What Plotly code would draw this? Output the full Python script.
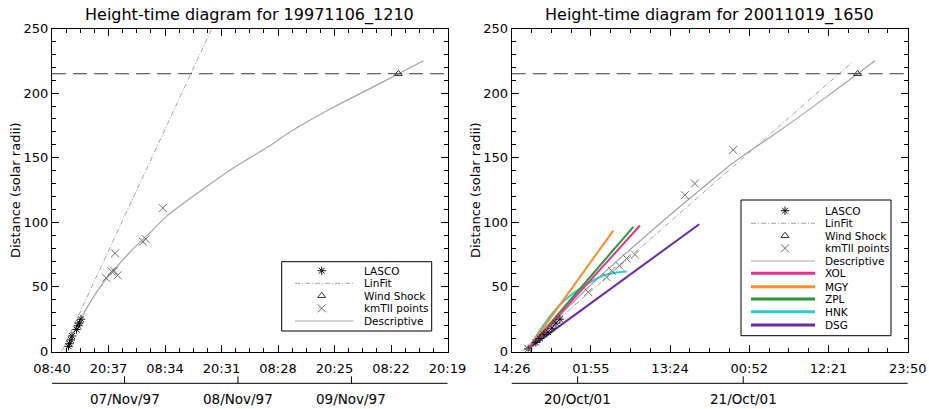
import plotly.graph_objects as go

W, H = 929, 409
FONT = "DejaVu Sans"

# ---------------- data: event 1 (1997-11-06 12:10) ----------------
e1_title = "Height-time diagram for 19971106_1210"
e1_range = ["1997-11-06 08:40", "1997-11-09 20:19"]
e1_tick_step_min = 717
e1_lasco_t = ["1997-11-06 12:09", "1997-11-06 12:23", "1997-11-06 12:41", "1997-11-06 12:54",
              "1997-11-06 13:51", "1997-11-06 14:11", "1997-11-06 14:29", "1997-11-06 14:48"]
e1_lasco_r = [4, 6, 9, 12, 17, 20, 22, 25]
e1_kmtii_t = ["1997-11-06 20:06", "1997-11-06 21:16", "1997-11-06 21:48", "1997-11-06 22:32",
              "1997-11-06 22:00", "1997-11-07 03:53", "1997-11-07 04:30", "1997-11-07 08:06"]
e1_kmtii_r = [57, 62, 62.5, 59, 76, 85, 87, 111]
e1_shock_t = ["1997-11-09 09:56"]
e1_shock_r = [215]
e1_linfit_t = ["1997-11-06 10:43", "1997-11-08 00:50"]
e1_linfit_r = [0, 300]
e1_desc_t = ["1997-11-06 12:03", "1997-11-06 13:32", "1997-11-06 15:01", "1997-11-06 16:43",
             "1997-11-06 19:53", "1997-11-06 21:23", "1997-11-07 01:11", "1997-11-07 03:56",
             "1997-11-07 05:25", "1997-11-07 09:01", "1997-11-07 16:00", "1997-11-07 23:00",
             "1997-11-08 06:12", "1997-11-08 11:04", "1997-11-08 20:11", "1997-11-09 03:23",
             "1997-11-09 09:56", "1997-11-09 15:14"]
e1_desc_r = [3, 17, 27, 38, 55, 61.5, 77, 87, 92, 105, 124, 142, 158, 170, 189, 202.5, 215, 225]
e1_day_t = ["1997-11-07", "1997-11-08", "1997-11-09"]
e1_day_labels = ["07/Nov/97", "08/Nov/97", "09/Nov/97"]

# ---------------- data: event 2 (2001-10-19 16:50) ----------------
e2_title = "Height-time diagram for 20011019_1650"
e2_range = ["2001-10-19 14:26:30", "2001-10-21 23:50:30"]
e2_tick_step_min = 688.8
e2_lasco_t = ["2001-10-19 16:50", "2001-10-19 17:57", "2001-10-19 18:32", "2001-10-19 19:07",
              "2001-10-19 19:42", "2001-10-19 20:16", "2001-10-19 20:51", "2001-10-19 21:26"]
e2_lasco_r = [2, 7, 10, 13, 15, 18, 22, 25]
e2_kmtii_t = ["2001-10-19 16:50", "2001-10-20 01:32", "2001-10-20 04:12", "2001-10-20 04:56",
              "2001-10-20 06:02", "2001-10-20 07:06", "2001-10-20 08:18", "2001-10-20 15:33",
              "2001-10-20 17:00", "2001-10-20 22:33"]
e2_kmtii_r = [2, 46, 57.5, 62.5, 66.5, 72, 75, 121, 130, 156]
e2_shock_t = ["2001-10-21 16:35"]
e2_shock_r = [215]
e2_linfit_t = ["2001-10-19 15:56", "2001-10-21 15:43"]
e2_linfit_r = [0, 223.5]
e2_desc_t = ["2001-10-19 16:48", "2001-10-19 21:26", "2001-10-20 03:14", "2001-10-20 12:22",
             "2001-10-20 17:43", "2001-10-20 22:48", "2001-10-21 05:19", "2001-10-21 12:34",
             "2001-10-21 19:06"]
e2_desc_r = [2, 28, 58, 101, 125, 147, 171, 199, 225]
xol_t = ["2001-10-19 16:50", "2001-10-20 09:02"]
xol_r = [2, 97.5]
mgy_t = ["2001-10-19 16:50", "2001-10-20 05:10"]
mgy_r = [2, 93.6]
zpl_t = ["2001-10-19 16:50", "2001-10-20 08:04"]
zpl_r = [2, 96.5]
hnk_t = ["2001-10-19 16:50", "2001-10-19 19:01", "2001-10-19 20:28", "2001-10-19 22:24",
         "2001-10-20 01:18", "2001-10-20 03:43", "2001-10-20 05:24", "2001-10-20 07:06"]
hnk_r = [2, 20, 30.5, 41, 52, 58.8, 61, 62]
dsg_t = ["2001-10-19 16:50", "2001-10-20 17:37"]
dsg_r = [2, 98.5]
e2_day_t = ["2001-10-20", "2001-10-21"]
e2_day_labels = ["20/Oct/01", "21/Oct/01"]

au_radii = 215
y_label = "Distance (solar radii)"
base_legend = ["LASCO", "LinFit", "Wind Shock", "kmTII points", "Descriptive"]
model_names = ["XOL", "MGY", "ZPL", "HNK", "DSG"]

# ---------------- styles ----------------
GRAY_LINE = "#a3a3a3"
STY = {
    "LASCO": dict(kind="marker", marker=dict(symbol="asterisk-open", size=7, color="#111",
                                             line=dict(width=1, color="#111"))),
    "LinFit": dict(kind="line", line=dict(color=GRAY_LINE, width=1, dash="5px,2px,1px,2px")),
    "Wind Shock": dict(kind="marker", marker=dict(symbol="triangle-up-open", size=7, color="#333",
                                                  line=dict(width=1, color="#333"))),
    "kmTII points": dict(kind="marker", marker=dict(symbol="x-thin-open", size=8, color="#6e6e6e",
                                                    line=dict(width=1, color="#6e6e6e"))),
    "Descriptive": dict(kind="line", line=dict(color=GRAY_LINE, width=1.2, shape="spline",
                                               smoothing=0.8)),
    "XOL": dict(kind="line", line=dict(color="#e8308c", width=2)),
    "MGY": dict(kind="line", line=dict(color="#ff8c26", width=2)),
    "ZPL": dict(kind="line", line=dict(color="#259a32", width=2)),
    "HNK": dict(kind="line", line=dict(color="#28cccc", width=2, shape="spline", smoothing=0.8)),
    "DSG": dict(kind="line", line=dict(color="#6a28a8", width=2)),
}

# pixel geometry
Y_TOP, Y_BOT = 28.5, 351.5
P1 = (52.0, 447.5)
P2 = (511.7, 907.7)
DATE_LINE_Y = 383.3

fig = go.Figure()


def line_trace(t, r, name, xa, ya):
    return go.Scatter(x=t, y=r, mode="lines", line=STY[name]["line"], xaxis=xa, yaxis=ya,
                      showlegend=False, hoverinfo="skip")


def marker_trace(t, r, name, xa, ya):
    return go.Scatter(x=t, y=r, mode="markers", marker=STY[name]["marker"], xaxis=xa, yaxis=ya,
                      showlegend=False, hoverinfo="skip")


# panel 1
fig.add_trace(line_trace(e1_desc_t, e1_desc_r, "Descriptive", "x", "y"))
fig.add_trace(line_trace(e1_linfit_t, e1_linfit_r, "LinFit", "x", "y"))
fig.add_trace(marker_trace(e1_lasco_t, e1_lasco_r, "LASCO", "x", "y"))
fig.add_trace(marker_trace(e1_kmtii_t, e1_kmtii_r, "kmTII points", "x", "y"))
fig.add_trace(marker_trace(e1_shock_t, e1_shock_r, "Wind Shock", "x", "y"))

# panel 2
fig.add_trace(line_trace(e2_desc_t, e2_desc_r, "Descriptive", "x2", "y2"))
fig.add_trace(line_trace(e2_linfit_t, e2_linfit_r, "LinFit", "x2", "y2"))
for nm, t, r in [("DSG", dsg_t, dsg_r), ("HNK", hnk_t, hnk_r), ("MGY", mgy_t, mgy_r),
                 ("ZPL", zpl_t, zpl_r), ("XOL", xol_t, xol_r)]:
    fig.add_trace(line_trace(t, r, nm, "x2", "y2"))
fig.add_trace(marker_trace(e2_lasco_t, e2_lasco_r, "LASCO", "x2", "y2"))
fig.add_trace(marker_trace(e2_kmtii_t, e2_kmtii_r, "kmTII points", "x2", "y2"))
fig.add_trace(marker_trace(e2_shock_t, e2_shock_r, "Wind Shock", "x2", "y2"))

shapes = []
annotations = []

# 1 AU dashed reference
for xa, ya in [("x", "y"), ("x2", "y2")]:
    shapes.append(dict(type="line", xref=f"{xa} domain", x0=0, x1=1, yref=ya, y0=au_radii, y1=au_radii,
                       line=dict(color="#3a3a3a", width=1, dash="14px,7px")))

# secondary date axes
for xa, days, labels in [("x", e1_day_t, e1_day_labels), ("x2", e2_day_t, e2_day_labels)]:
    shapes.append(dict(type="line", xref=f"{xa} domain", x0=0, x1=1, yref="y3",
                       y0=DATE_LINE_Y, y1=DATE_LINE_Y, line=dict(color="black", width=1)))
    for d, lab in zip(days, labels):
        shapes.append(dict(type="line", xref=xa, x0=d, x1=d, yref="y3", y0=DATE_LINE_Y - 7,
                           y1=DATE_LINE_Y, line=dict(color="black", width=1)))
        annotations.append(dict(x=d, xref=xa, y=399, yref="y3", text=lab, showarrow=False,
                                font=dict(family=FONT, size=13.5, color="black"),
                                xanchor="center", yanchor="middle"))

# titles and y labels
for cx, title in [((P1[0] + P1[1]) / 2, e1_title), ((P2[0] + P2[1]) / 2, e2_title)]:
    annotations.append(dict(x=cx, y=15, xref="x3", yref="y3", text=title, showarrow=False,
                            font=dict(family=FONT, size=16, color="black"),
                            xanchor="center", yanchor="middle"))
for lx in [15, 475]:
    annotations.append(dict(x=lx, y=(Y_TOP + Y_BOT) / 2, xref="x3", yref="y3", text=y_label,
                            showarrow=False, textangle=-90,
                            font=dict(family=FONT, size=13, color="black"),
                            xanchor="center", yanchor="middle"))


# custom legends (pixel space)
def add_legend(box, sym_x, lx0, lx1, text_x, row_y, labels):
    shapes.append(dict(type="rect", xref="x3", yref="y3", x0=box[0], y0=box[1], x1=box[2], y1=box[3],
                       line=dict(color="black", width=1), fillcolor="rgba(0,0,0,0)"))
    for lab, yy in zip(labels, row_y):
        st = STY[lab]
        if st["kind"] == "marker":
            fig.add_trace(go.Scatter(x=[sym_x], y=[yy], mode="markers", marker=st["marker"],
                                     xaxis="x3", yaxis="y3", showlegend=False, hoverinfo="skip"))
        else:
            ln = {k: v for k, v in st["line"].items() if k not in ("shape", "smoothing")}
            if lab in model_names:
                ln["width"] = 3
            shapes.append(dict(type="line", xref="x3", yref="y3", x0=lx0, x1=lx1, y0=yy, y1=yy,
                               line=ln))
        annotations.append(dict(x=text_x, y=yy, xref="x3", yref="y3", text=lab, showarrow=False,
                                font=dict(family=FONT, size=10.5, color="black"),
                                xanchor="left", yanchor="middle"))


add_legend((281.7, 261.7, 431.7, 331.0), 321.7, 295, 353.3, 361.7,
           [270.7, 283.3, 295.7, 308.3, 321.0], base_legend)
add_legend((741.0, 200.0, 891.0, 335.7), 785, 751, 815, 823.3,
           [210.7, 223.3, 235.7, 248.3, 261.0, 273.3, 286.7, 299.0, 311.7, 325.0],
           base_legend + model_names)

tick_font = dict(family=FONT, size=13, color="black")


def xaxis_cfg(px, rng, step_min, anchor):
    return dict(type="date", domain=[px[0] / W, px[1] / W], range=rng, anchor=anchor,
                tickmode="linear", tick0=rng[0], dtick=step_min * 60000, tickformat="%H:%M",
                ticks="inside", ticklen=7, tickwidth=1, tickcolor="black",
                minor=dict(tickmode="linear", tick0=rng[0], dtick=step_min * 60000 / 4,
                           ticks="inside", ticklen=4, tickwidth=1, tickcolor="black", showgrid=False),
                showline=True, linecolor="black", linewidth=1, mirror="ticks",
                showgrid=False, zeroline=False, tickfont=tick_font, ticklabelstandoff=5,
                automargin=False, fixedrange=True)


def yaxis_cfg(anchor):
    return dict(domain=[1 - Y_BOT / H, 1 - Y_TOP / H], range=[0, 250], anchor=anchor,
                tickmode="linear", tick0=0, dtick=50,
                ticks="inside", ticklen=7, tickwidth=1, tickcolor="black",
                minor=dict(tickmode="linear", tick0=0, dtick=10, ticks="inside", ticklen=4,
                           tickwidth=1, tickcolor="black", showgrid=False),
                showline=True, linecolor="black", linewidth=1, mirror="ticks",
                showgrid=False, zeroline=False, tickfont=tick_font, automargin=False,
                fixedrange=True)


fig.update_layout(
    width=W, height=H, autosize=False,
    margin=dict(l=0, r=0, t=0, b=0, pad=0, autoexpand=False),
    paper_bgcolor="white", plot_bgcolor="rgba(0,0,0,0)",
    showlegend=False, hovermode=False,
    xaxis=xaxis_cfg(P1, e1_range, e1_tick_step_min, "y"),
    yaxis=yaxis_cfg("x"),
    xaxis2=xaxis_cfg(P2, e2_range, e2_tick_step_min, "y2"),
    yaxis2=yaxis_cfg("x2"),
    xaxis3=dict(domain=[0, 1], range=[0, W], anchor="y3", visible=False, fixedrange=True,
                automargin=False),
    yaxis3=dict(domain=[0, 1], range=[H, 0], anchor="x3", visible=False, fixedrange=True,
                automargin=False),
    shapes=shapes,
    annotations=annotations,
)

fig.write_html("out.html", config={"displayModeBar": False, "staticPlot": True},
               post_script="document.body.style.margin='0';document.body.style.overflow='hidden';")
